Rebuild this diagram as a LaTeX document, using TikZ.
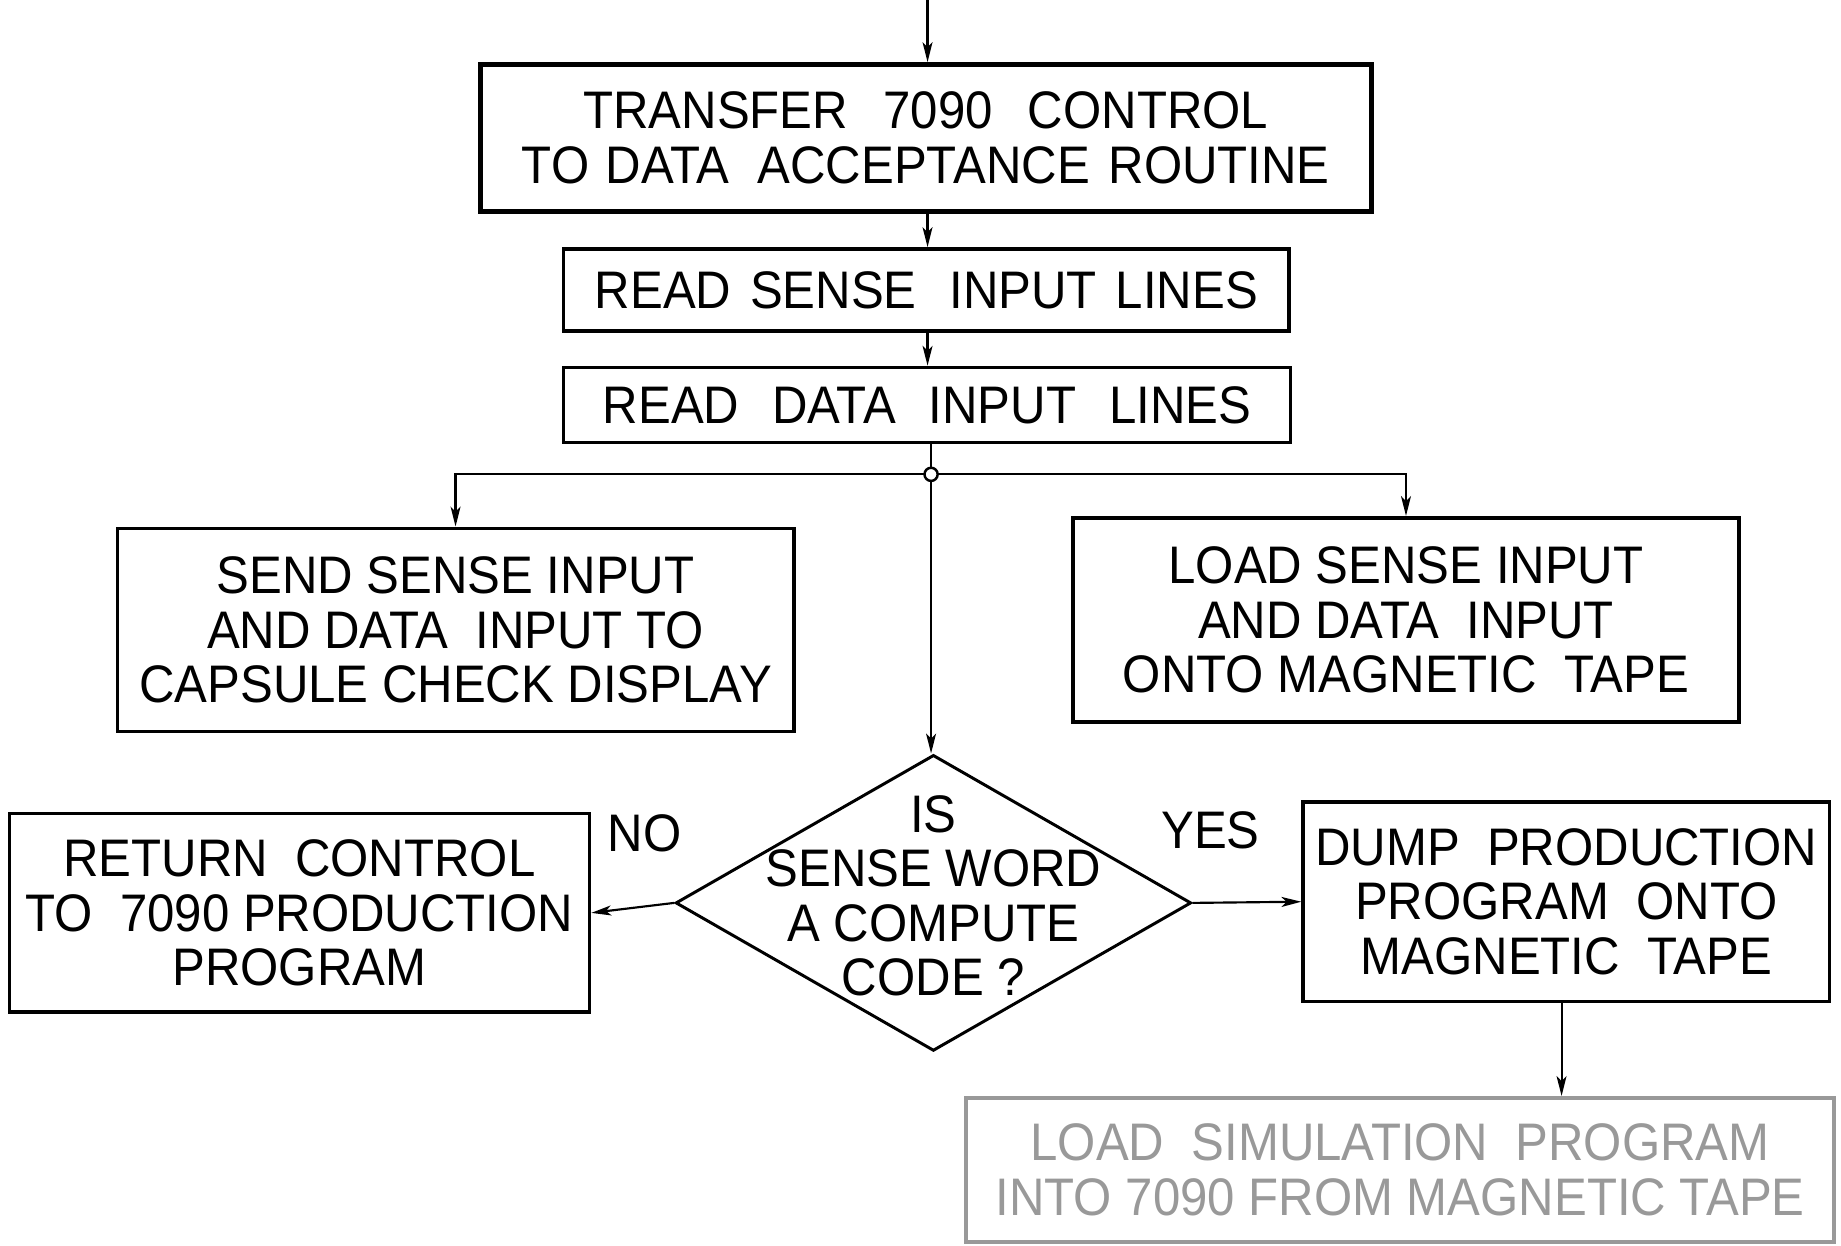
\documentclass[tikz,border=0pt]{standalone}
\usepackage{fontspec}
\setmainfont{Liberation Sans}[FakeStretch=0.93]
\usetikzlibrary{shapes.geometric,arrows.meta}
\newcommand\gap[1]{\hspace*{#1cm}}
\begin{document}
\begin{tikzpicture}[x=0.025cm,y=-0.025cm,
  txt/.style={font=\fontsize{32}{33}\selectfont, align=center},
  procbox/.style={draw, rectangle, line width=2.2pt, inner sep=0pt, txt},
  decision/.style={draw, diamond, line width=1.8pt, inner sep=0pt},
  arr/.style={line width=1.3pt, -{Stealth[length=12pt,width=6pt,inset=3pt]}},
  link/.style={line width=1.3pt},
  faded/.style={draw=black!40, text=black!40}]
  \useasboundingbox (0,0) rectangle (1568,1061);

  % process boxes
  \node[procbox, line width=3pt, minimum width=18.975cm, minimum height=3.125cm] (b1) at (788.5,117.5)
    {TRANSFER\gap{0.75}7090\gap{0.75}CONTROL\\TO\gap{0.35}DATA\gap{0.6}ACCEPTANCE\gap{0.4}ROUTINE};
  \node[procbox, minimum width=15.45cm, minimum height=1.75cm] (b2) at (789,247)
    {READ\gap{0.4}SENSE\gap{0.7}INPUT\gap{0.4}LINES};
  \node[procbox, minimum width=15.475cm, minimum height=1.6cm] (b3) at (789.5,345)
    {READ\gap{0.7}DATA\gap{0.7}INPUT\gap{0.7}LINES};
  \node[procbox, minimum width=14.4cm, minimum height=4.325cm] (b4) at (388,536.5)
    {SEND SENSE INPUT\\AND DATA\ \ INPUT TO\\CAPSULE CHECK DISPLAY};
  \node[procbox, minimum width=14.175cm, minimum height=4.35cm] (b5) at (1197.5,528)
    {LOAD SENSE INPUT\\AND DATA\ \ INPUT\\ONTO MAGNETIC\ \ TAPE};
  \node[procbox, minimum width=12.35cm, minimum height=4.225cm] (b6) at (255,777.5)
    {RETURN\ \ CONTROL\\TO\ \ 7090 PRODUCTION\\PROGRAM};
  \node[procbox, minimum width=11.2cm, minimum height=4.25cm] (b7) at (1334,768)
    {DUMP\ \ PRODUCTION\\PROGRAM\ \ ONTO\\MAGNETIC\ \ TAPE};
  \node[procbox, faded, minimum width=18.475cm, minimum height=3.075cm] (b8) at (1192.5,996.5)
    {LOAD\ \ SIMULATION\ \ PROGRAM\\INTO 7090 FROM MAGNETIC TAPE};

  % decision
  \node[decision, minimum width=10.975cm, minimum height=6.3cm] (dec) at (795,769) {};
  \node[txt] (dectext) at (795,763) {IS\\SENSE WORD\\A COMPUTE\\CODE ?};

  % branch labels
  \node[txt] (no) at (549,710) {NO};
  \node[txt] (yes) at (1031,707) {YES};

  % connectors
  \coordinate (top) at (790,0);
  \coordinate (j) at (793,404);
  \draw[arr] (top) -- (b1.north -| top);
  \draw[arr] (b1.south -| top) -- (b2.north -| top);
  \draw[arr] (b2.south -| top) -- (b3.north -| top);
  \draw[link] (b3.south -| j) -- (j);
  \draw[arr] (j) -| (b4.north);
  \draw[arr] (j) -| (b5.north);
  \draw[arr] (j) -- (dec.north -| j);
  \draw[arr] (dec.west) -- (b6.east);
  \draw[arr] (dec.east) -- (b7.west);
  \coordinate (down) at (1330,853);
  \draw[arr] (b7.south -| down) -- (b8.north -| down);

  % junction dot
  \node[circle, draw, fill=white, line width=1.5pt, inner sep=0pt, minimum size=0.28cm] (jdot) at (j) {};
\end{tikzpicture}
\end{document}
